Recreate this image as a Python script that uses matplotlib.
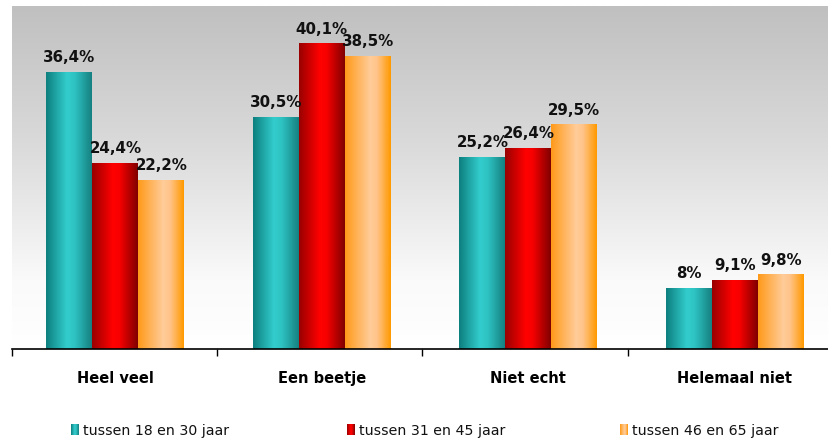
import matplotlib
matplotlib.use("Agg")
import matplotlib.pyplot as plt
import numpy as np
from matplotlib.colors import LinearSegmentedColormap

categories = ["Heel veel", "Een beetje", "Niet echt", "Helemaal niet"]
series = ["tussen 18 en 30 jaar", "tussen 31 en 45 jaar", "tussen 46 en 65 jaar"]
values_18_30 = [36.4, 30.5, 25.2, 8.0]
values_31_45 = [24.4, 40.1, 26.4, 9.1]
values_46_65 = [22.2, 38.5, 29.5, 9.8]
all_values = [values_18_30, values_31_45, values_46_65]

# horizontal colour ramps (left edge -> highlight -> right edge) for the cylinder look
ramps = [
    [(0.0, "#0d7f7f"), (0.45, "#33cccc"), (0.62, "#2fc4c4"), (1.0, "#168080")],
    [(0.0, "#990000"), (0.45, "#ff0000"), (0.6, "#f80000"), (1.0, "#800000")],
    [(0.0, "#ff9a1a"), (0.55, "#ffcc99"), (0.7, "#ffc48a"), (1.0, "#ff9900")],
]
cmaps = [LinearSegmentedColormap.from_list(f"bar{i}", r) for i, r in enumerate(ramps)]

W, H = 829, 439
fig = plt.figure(figsize=(W / 100, H / 100), dpi=100)
# plot area runs slightly past the right edge of the canvas
ax = fig.add_axes([12 / W, 1 - 350 / H, 821 / W, (350 - 7) / H])

YMAX = 45
ax.set_xlim(-0.5, len(categories) - 0.5)
ax.set_ylim(0, YMAX)

# grey-to-white vertical background
bg = LinearSegmentedColormap.from_list(
    "bg", [(0, "#ffffff"), (0.2, "#fafafa"), (0.6, "#dadada"), (1.0, "#c0c0c0")])
grad = np.linspace(0, 1, 256).reshape(-1, 1)
ax.imshow(grad, cmap=bg, origin="lower", aspect="auto",
          extent=[-0.5, len(categories) - 0.5, 0, YMAX], zorder=0)

bw = 0.224
x = np.arange(len(categories)) + 0.006 * np.arange(len(categories)) + 0.004
hramp = np.linspace(0, 1, 128).reshape(1, -1)
for s, vals in enumerate(all_values):
    xs = x + (s - 1) * bw
    bars = ax.bar(xs, vals, width=bw, color="none", edgecolor="none", zorder=2)
    for b, v in zip(bars, vals):
        x0 = b.get_x()
        im = ax.imshow(hramp, cmap=cmaps[s], aspect="auto",
                       extent=[x0, x0 + bw, 0, v], zorder=2)
        im.set_clip_path(b)
        ax.text(x0 + bw / 2, v + 1.0, f"{v:g}%".replace(".", ","),
                ha="center", va="bottom", fontsize=10.8, fontweight="bold", color="#111111")

ax.set_xlim(-0.5, len(categories) - 0.5)
ax.set_ylim(0, YMAX)

for sp in ["top", "right", "left"]:
    ax.spines[sp].set_visible(False)
ax.spines["bottom"].set_color("black")
ax.spines["bottom"].set_linewidth(1.2)
ax.set_yticks([])
ax.set_xticks(np.arange(len(categories) + 1) - 0.5)
ax.set_xticklabels([])
ax.tick_params(axis="x", length=5, width=1, color="black", direction="out")

for i, c in enumerate(categories):
    ax.text(x[i], -3.7, c, ha="center", va="center", fontsize=10.5, fontweight="bold")

# legend row
leg_x = [71, 347, 620]
for s, name in enumerate(series):
    lx = leg_x[s] / W
    sq = fig.add_axes([lx, 1 - 436 / H, 8 / W, 11 / H])
    sq.imshow(hramp, cmap=cmaps[s], aspect="auto")
    sq.axis("off")
    fig.text(lx + 12 / W, 1 - 431 / H, name, ha="left", va="center",
             fontsize=10.2, color="#111111")

fig.savefig("out.png", dpi=100, facecolor="white")
